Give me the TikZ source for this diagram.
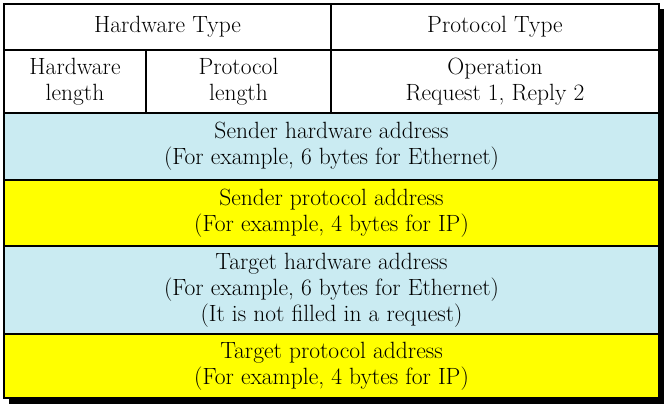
\documentclass[tikz,border=0pt]{standalone}
\begin{document}
\begin{tikzpicture}[x=1pt,y=-1pt,
  cell/.style={align=center,font=\fontsize{23.5}{26}\selectfont,inner sep=0pt},
  grid/.style={line width=1.2pt,draw=black}]
\definecolor{addrblue}{RGB}{202,235,242}
\definecolor{addryellow}{RGB}{255,255,0}
\useasboundingbox (0,0) rectangle (666,409);
% drop shadow
\fill[black] (9,9) rectangle (664,404);
% backgrounds
\fill[white] (4,4) rectangle (659,113);
\fill[addrblue] (4,113) rectangle (659,180);
\fill[addryellow] (4,180) rectangle (659,246);
\fill[addrblue] (4,246) rectangle (659,334);
\fill[addryellow] (4,334) rectangle (659,398);
% inner rules
\draw[grid] (4,50) -- (659,50);
\draw[grid] (4,113) -- (659,113);
\draw[grid] (4,180) -- (659,180);
\draw[grid] (4,246) -- (659,246);
\draw[grid] (4,334) -- (659,334);
\draw[grid] (331,4) -- (331,113);
\draw[grid] (146,50) -- (146,113);
% outer frame
\draw[line width=2.4pt] (4,4) rectangle (659,398);
% field labels
\node[cell] (hwtype) at (167.5,27) {Hardware Type};
\node[cell] (prtype) at (495,27) {Protocol Type};
\node[cell] (hwlen) at (75,82) {Hardware\\length};
\node[cell] (prlen) at (238.5,82) {Protocol\\length};
\node[cell] (oper) at (495,82) {Operation\\Request 1, Reply 2};
\node[cell] (sha) at (331.5,146) {Sender hardware address\\(For example, 6 bytes for Ethernet)};
\node[cell] (spa) at (331.5,213) {Sender protocol address\\(For example, 4 bytes for IP)};
\node[cell] (tha) at (331.5,290) {Target hardware address\\(For example, 6 bytes for Ethernet)\\(It is not filled in a request)};
\node[cell] (tpa) at (331.5,366) {Target protocol address\\(For example, 4 bytes for IP)};
\end{tikzpicture}
\end{document}
